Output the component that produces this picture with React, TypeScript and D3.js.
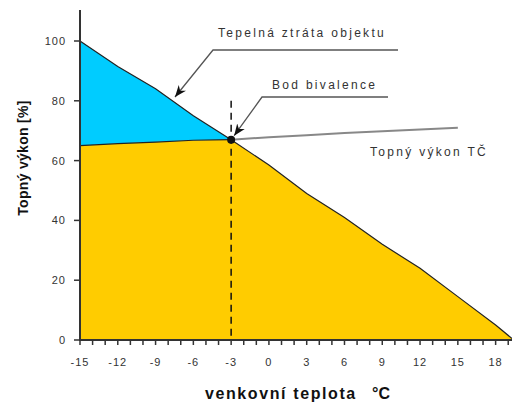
import React from "react";
import * as d3 from "d3";

const lossTemps = [-15, -12, -9, -6, -3, 0, 3, 6, 9, 12, 15, 18, 19.3];
const lossValues = [100, 91.5, 84, 75, 67, 58.5, 49, 41, 32, 24, 14.5, 5, 0.5];
const pumpTemps = [-15, -12, -9, -6, -3, 0, 3, 6, 9, 12, 15];
const pumpValues = [65, 65.7, 66.2, 66.8, 67, 67.8, 68.5, 69.2, 69.8, 70.4, 71];
const xTicks = [-15, -12, -9, -6, -3, 0, 3, 6, 9, 12, 15, 18];
const yTicks = [0, 20, 40, 60, 80, 100];
const bivalence = { t: -3, v: 67 };

const W = 512, H = 403;

export default function App() {
  const x = d3.scaleLinear().domain([-15, 19.3]).range([80, 512]);
  const y = d3.scaleLinear().domain([0, 100]).range([340, 41]);

  const loss = lossTemps.map((t, i) => [t, lossValues[i]] as [number, number]);
  const pump = pumpTemps.map((t, i) => [t, pumpValues[i]] as [number, number]);
  const pumpLeft = pump.filter((d) => d[0] <= bivalence.t);
  const pumpRight = pump.filter((d) => d[0] >= bivalence.t);
  const lossLeft = loss.filter((d) => d[0] <= bivalence.t);
  const lossRight = loss.filter((d) => d[0] >= bivalence.t);

  const line = d3.line<[number, number]>().x((d) => x(d[0])).y((d) => y(d[1]));
  const area = d3.area<[number, number]>().x((d) => x(d[0])).y0(y(0)).y1((d) => y(d[1]));

  const orangeTop = [...pumpLeft, ...lossRight.slice(1)];
  const bluePts = [...lossLeft, ...pumpLeft.slice().reverse()];
  const bluePath = "M" + bluePts.map((d) => `${x(d[0])},${y(d[1])}`).join("L") + "Z";

  const minorTicks = d3.range(-15, 20, 1);
  const font = "'Liberation Sans', Arial, sans-serif";
  const tc = "#333";
  const bx = x(bivalence.t), by = y(bivalence.v);

  return (
    <svg width={W} height={H} style={{ position: "absolute", left: 0, top: 0 }} fontFamily={font}>
      <defs>
        <marker id="ah" viewBox="0 0 10 10" refX="10" refY="5" markerWidth="9" markerHeight="9" orient="auto">
          <path d="M0,1 L10,5 L0,9 L3,5 Z" fill="#111" />
        </marker>
      </defs>
      <rect width={W} height={H} fill="#fff" />
      <path d={area(orangeTop) || ""} fill="#FFCC00" />
      <path d={bluePath} fill="#00CCFF" />
      <path d={line(loss) || ""} fill="none" stroke="#222" strokeWidth={1.2} />
      <path d={line(pumpLeft) || ""} fill="none" stroke="#222" strokeWidth={1.2} />
      <path d={line(pumpRight) || ""} fill="none" stroke="#888" strokeWidth={2} />
      <line x1={bx} x2={bx} y1={y(80)} y2={y(0)} stroke="#111" strokeWidth={1.5} strokeDasharray="7,5" />
      <circle cx={bx} cy={by} r={4} fill="#111" />

      {/* axes */}
      <line x1={80} x2={80} y1={10} y2={341} stroke={tc} strokeWidth={2} />
      <line x1={79} x2={512} y1={340} y2={340} stroke={tc} strokeWidth={2} />
      {yTicks.map((v) => (
        <g key={v}>
          <line x1={74} x2={80} y1={y(v)} y2={y(v)} stroke={tc} strokeWidth={1.5} />
          <text x={66} y={y(v) + 4} textAnchor="end" fontSize={11} letterSpacing={1} fill={tc}>{v}</text>
        </g>
      ))}
      {minorTicks.map((t) => (
        <line key={t} x1={x(t)} x2={x(t)} y1={340} y2={345} stroke={tc} strokeWidth={1.5} />
      ))}
      {xTicks.map((t) => (
        <text key={t} x={x(t)} y={366} textAnchor="middle" fontSize={11} letterSpacing={1} fill={tc}>{t}</text>
      ))}

      <text x={205} y={399} fontSize={16} fontWeight="bold" letterSpacing={1.6} fill="#111">venkovní teplota</text>
      <text x={372} y={399} fontSize={16} fontWeight="bold" fill="#111">°C</text>
      <text transform={`translate(28,158) rotate(-90)`} textAnchor="middle" fontSize={14} fontWeight="bold" letterSpacing={0.3} fill="#111">Topný výkon  [%]</text>

      {/* annotations */}
      <polyline points={`398,50 213,50 175,97`} fill="none" stroke="#555" strokeWidth={1.3} markerEnd="url(#ah)" />
      <text x={218} y={37} fontSize={12} letterSpacing={2.3} fill={tc}>Tepelná ztráta objektu</text>
      <polyline points={`388,97 262,97 ${bx + 3},${by - 4}`} fill="none" stroke="#555" strokeWidth={1.3} markerEnd="url(#ah)" />
      <text x={272} y={89} fontSize={12} letterSpacing={2.3} fill={tc}>Bod bivalence</text>
      <text x={370} y={156} fontSize={12} letterSpacing={2.3} fill={tc}>Topný výkon TČ</text>
    </svg>
  );
}
